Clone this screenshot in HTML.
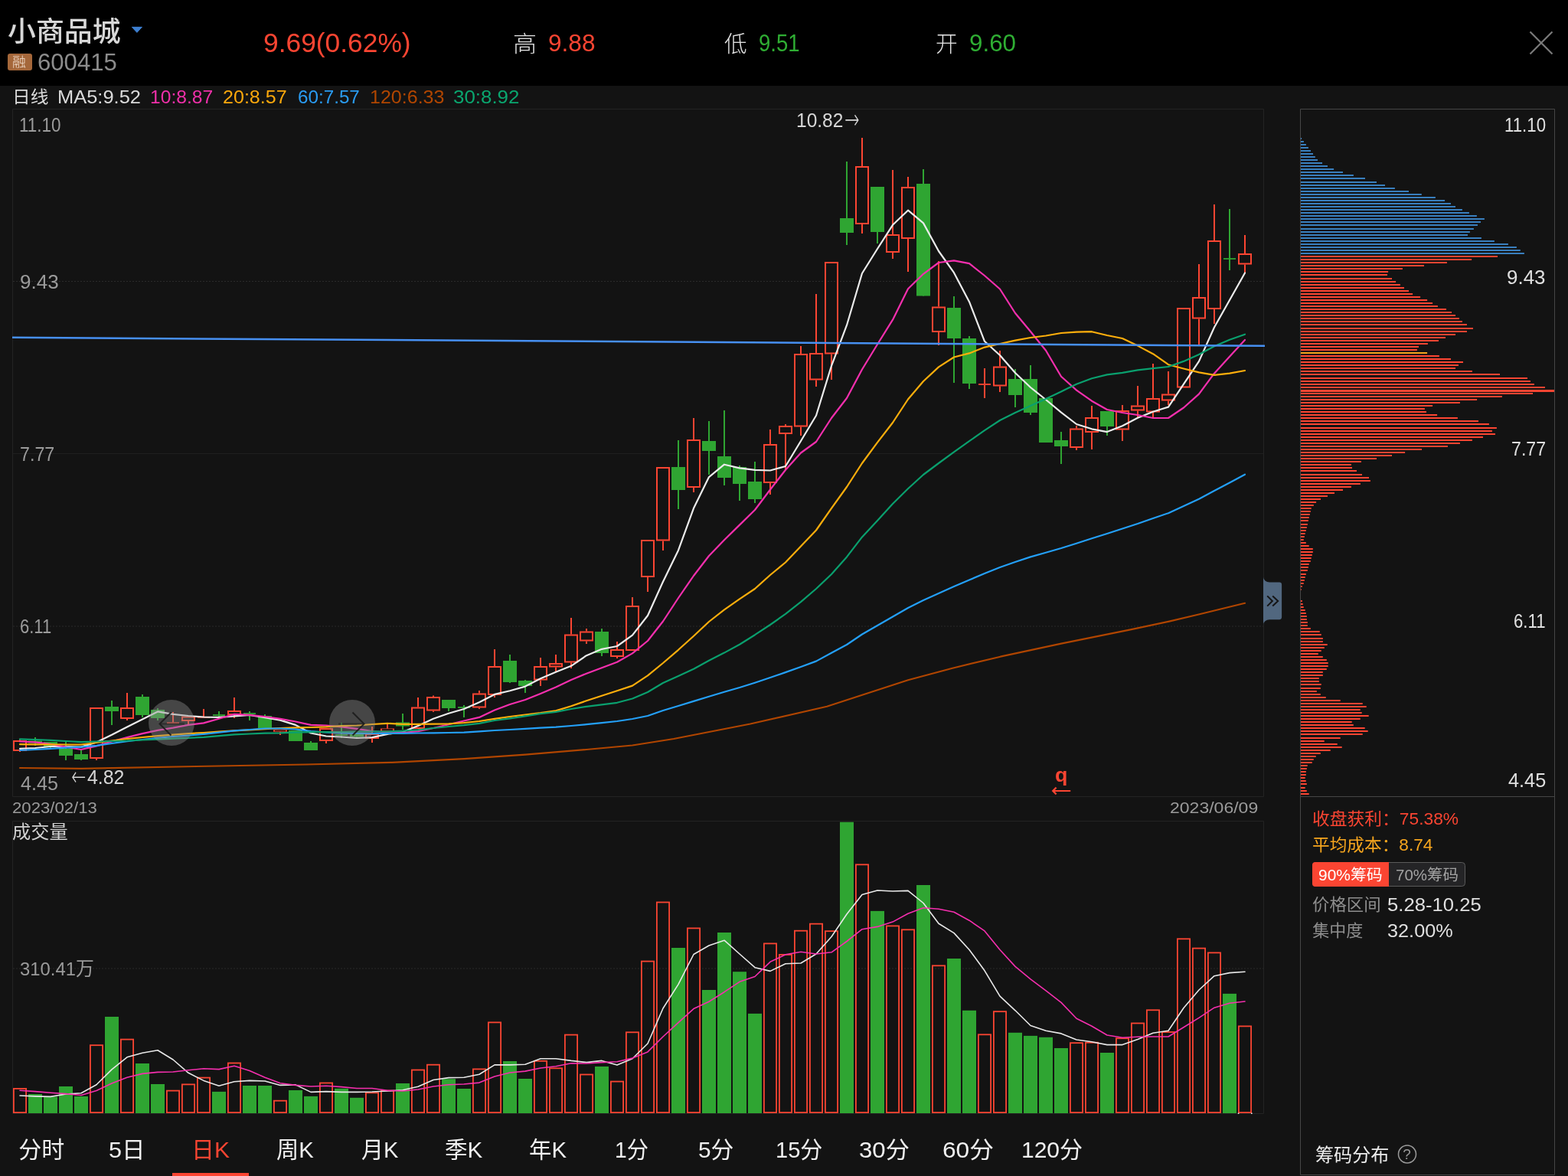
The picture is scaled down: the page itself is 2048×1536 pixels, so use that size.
<!DOCTYPE html>
<html lang="zh-CN"><head><meta charset="utf-8"><title>小商品城 600415 日K</title>
<style>
html,body{margin:0;padding:0;background:#131313;}
body{width:2048px;height:1536px;position:relative;overflow:hidden;font-family:"Liberation Sans","Noto Sans CJK SC",sans-serif;}
#bar{position:absolute;left:0;top:0;width:2048px;height:112px;background:#000;}
svg{position:absolute;left:0;top:0;}
.t{position:absolute;white-space:nowrap;transform-origin:0 0;display:block;}
</style></head><body>
<div id="bar"></div>
<svg width="2048" height="1536" viewBox="0 0 2048 1536">
<path d="M16.5 142.5 H1650.5 V1040.5 H16.5 Z M16.5 1072.5 H1650.5 V1454.5 H16.5 Z" fill="none" stroke="#232323" stroke-width="1"/>
<path d="M17 367.5 H1650 M17 818 H1650 M17 1265 H1650" stroke="#2b2b2b" stroke-width="1" stroke-dasharray="2 2" fill="none"/>
<path d="M17 592.5 H1650" stroke="#1f1f1f" stroke-width="1" fill="none"/>
<g fill="#2fa532"><rect x="45" y="963" width="2" height="11.0"/><rect x="37" y="967.5" width="18" height="3.0"/><rect x="65" y="969" width="2" height="10.0"/><rect x="57" y="969" width="18" height="6.5"/><rect x="85" y="969" width="2" height="24.0"/><rect x="77" y="978" width="18" height="9.0"/><rect x="105" y="980" width="2" height="13.0"/><rect x="97" y="985" width="18" height="7.0"/><rect x="145" y="915" width="2" height="32.0"/><rect x="137" y="923" width="18" height="6.0"/><rect x="185" y="907" width="2" height="30.0"/><rect x="177" y="910" width="18" height="24.0"/><rect x="205" y="925" width="2" height="16.0"/><rect x="197" y="927" width="18" height="11.0"/><rect x="285" y="929" width="2" height="8.0"/><rect x="278" y="933.1" width="16" height="1.8"/><rect x="325" y="929" width="2" height="12.0"/><rect x="318" y="931.1" width="16" height="1.8"/><rect x="345" y="933" width="2" height="18.0"/><rect x="337" y="935" width="18" height="16.0"/><rect x="385" y="954" width="2" height="14.0"/><rect x="377" y="954" width="18" height="14.0"/><rect x="405" y="968" width="2" height="12.0"/><rect x="397" y="970" width="18" height="10.0"/><rect x="445" y="944" width="2" height="20.0"/><rect x="438" y="959.1" width="16" height="1.8"/><rect x="465" y="957" width="2" height="6.0"/><rect x="457" y="959" width="18" height="3.5"/><rect x="525" y="932" width="2" height="21.0"/><rect x="517" y="943.5" width="18" height="5.0"/><rect x="585" y="914" width="2" height="15.0"/><rect x="577" y="914" width="18" height="11.0"/><rect x="605" y="921" width="2" height="16.0"/><rect x="598" y="923.1" width="16" height="1.8"/><rect x="665" y="855" width="2" height="37.0"/><rect x="657" y="863" width="18" height="28.0"/><rect x="685" y="888" width="2" height="17.0"/><rect x="677" y="889" width="18" height="7.0"/><rect x="785" y="821" width="2" height="36.0"/><rect x="777" y="825" width="18" height="28.0"/><rect x="885" y="575" width="2" height="90.0"/><rect x="877" y="610" width="18" height="30.0"/><rect x="925" y="550" width="2" height="70.0"/><rect x="917" y="576" width="18" height="13.0"/><rect x="945" y="536" width="2" height="98.0"/><rect x="937" y="596" width="18" height="28.0"/><rect x="965" y="608" width="2" height="46.0"/><rect x="957" y="610" width="18" height="22.0"/><rect x="985" y="603" width="2" height="54.0"/><rect x="977" y="629" width="18" height="23.0"/><rect x="1105" y="211" width="2" height="109.0"/><rect x="1097" y="285" width="18" height="19.0"/><rect x="1145" y="244" width="2" height="74.0"/><rect x="1137" y="244" width="18" height="59.0"/><rect x="1205" y="221" width="2" height="165.5"/><rect x="1197" y="240" width="18" height="146.5"/><rect x="1245" y="387" width="2" height="113.0"/><rect x="1237" y="402" width="18" height="40.0"/><rect x="1265" y="439" width="2" height="69.0"/><rect x="1257" y="442" width="18" height="59.0"/><rect x="1325" y="482" width="2" height="50.0"/><rect x="1317" y="495" width="18" height="21.0"/><rect x="1345" y="477" width="2" height="65.0"/><rect x="1337" y="495" width="18" height="44.0"/><rect x="1365" y="520" width="2" height="58.0"/><rect x="1357" y="520" width="18" height="58.0"/><rect x="1385" y="564" width="2" height="42.0"/><rect x="1377" y="575" width="18" height="8.0"/><rect x="1445" y="537" width="2" height="32.0"/><rect x="1437" y="537" width="18" height="20.0"/><rect x="1605" y="273" width="2" height="80.0"/><rect x="1598" y="337.1" width="16" height="1.8"/></g><g fill="#fb4532"><rect x="25" y="966" width="2" height="1.0"/><rect x="25" y="981" width="2" height="1.0"/><path d="M17 967h18v14.0h-18z M19 969v10.0h14v-10.0z" fill-rule="evenodd"/><rect x="125" y="991" width="2" height="2.0"/><path d="M117 924h18v67.0h-18z M119 926v63.0h14v-63.0z" fill-rule="evenodd"/><rect x="165" y="905" width="2" height="19.0"/><rect x="165" y="939" width="2" height="2.0"/><path d="M157 924h18v15.0h-18z M159 926v11.0h14v-11.0z" fill-rule="evenodd"/><rect x="225" y="930" width="2" height="13.5"/><rect x="218" y="943.4" width="16" height="1.8"/><rect x="245" y="942" width="2" height="5.0"/><path d="M237 935.5h18v6.5h-18z M239 937.5v2.5h14v-2.5z" fill-rule="evenodd"/><rect x="265" y="926" width="2" height="10.0"/><rect x="258" y="935.9" width="16" height="1.8"/><rect x="305" y="911" width="2" height="17.0"/><rect x="305" y="934" width="2" height="4.0"/><path d="M297 928h18v6.0h-18z M299 930v2.0h14v-2.0z" fill-rule="evenodd"/><rect x="365" y="955.8" width="2" height="4.2"/><path d="M357 953.2h18v2.6h-18z M359 954.0v1.0h14v-1.0z" fill-rule="evenodd"/><rect x="425" y="968" width="2" height="3.0"/><path d="M417 951h18v17.0h-18z M419 953v13.0h14v-13.0z" fill-rule="evenodd"/><rect x="485" y="949" width="2" height="9.0"/><rect x="485" y="965" width="2" height="5.0"/><path d="M477 958h18v7.0h-18z M479 960v3.0h14v-3.0z" fill-rule="evenodd"/><rect x="505" y="946" width="2" height="5.5"/><path d="M497 951.5h18v3.5h-18z M499 952.3v1.9h14v-1.9z" fill-rule="evenodd"/><rect x="545" y="911" width="2" height="12.5"/><path d="M537 923.5h18v28.5h-18z M539 925.5v24.5h14v-24.5z" fill-rule="evenodd"/><rect x="565" y="908.5" width="2" height="1.5"/><rect x="565" y="928.5" width="2" height="1.5"/><path d="M557 910h18v18.5h-18z M559 912v14.5h14v-14.5z" fill-rule="evenodd"/><rect x="625" y="902" width="2" height="3.5"/><rect x="625" y="924.5" width="2" height="1.5"/><path d="M617 905.5h18v19.0h-18z M619 907.5v15.0h14v-15.0z" fill-rule="evenodd"/><rect x="645" y="848" width="2" height="22.0"/><rect x="645" y="908" width="2" height="3.0"/><path d="M637 870h18v38.0h-18z M639 872v34.0h14v-34.0z" fill-rule="evenodd"/><rect x="705" y="859" width="2" height="11.0"/><rect x="705" y="888.5" width="2" height="7.5"/><path d="M697 870h18v18.5h-18z M699 872v14.5h14v-14.5z" fill-rule="evenodd"/><rect x="725" y="855" width="2" height="11.0"/><rect x="725" y="871.5" width="2" height="6.5"/><path d="M717 866h18v5.5h-18z M719 868v1.5h14v-1.5z" fill-rule="evenodd"/><rect x="745" y="807" width="2" height="21.5"/><rect x="745" y="865.5" width="2" height="7.5"/><path d="M737 828.5h18v37.0h-18z M739 830.5v33.0h14v-33.0z" fill-rule="evenodd"/><rect x="765" y="821" width="2" height="3.5"/><rect x="765" y="837.5" width="2" height="3.5"/><path d="M757 824.5h18v13.0h-18z M759 826.5v9.0h14v-9.0z" fill-rule="evenodd"/><rect x="805" y="838" width="2" height="10.0"/><rect x="805" y="858" width="2" height="2.0"/><path d="M797 848h18v10.0h-18z M799 850v6.0h14v-6.0z" fill-rule="evenodd"/><rect x="825" y="780" width="2" height="11.0"/><path d="M817 791h18v59.0h-18z M819 793v55.0h14v-55.0z" fill-rule="evenodd"/><rect x="845" y="754" width="2" height="19.0"/><path d="M837 705h18v49.0h-18z M839 707v45.0h14v-45.0z" fill-rule="evenodd"/><rect x="865" y="706.5" width="2" height="12.5"/><path d="M857 610h18v96.5h-18z M859 612v92.5h14v-92.5z" fill-rule="evenodd"/><rect x="905" y="546" width="2" height="28.0"/><rect x="905" y="637" width="2" height="6.0"/><path d="M897 574h18v63.0h-18z M899 576v59.0h14v-59.0z" fill-rule="evenodd"/><rect x="1005" y="561" width="2" height="19.0"/><rect x="1005" y="631" width="2" height="15.0"/><path d="M997 580h18v51.0h-18z M999 582v47.0h14v-47.0z" fill-rule="evenodd"/><rect x="1025" y="554" width="2" height="2.0"/><rect x="1025" y="567" width="2" height="46.0"/><path d="M1017 556h18v11.0h-18z M1019 558v7.0h14v-7.0z" fill-rule="evenodd"/><rect x="1045" y="452" width="2" height="10.0"/><rect x="1045" y="557.5" width="2" height="11.5"/><path d="M1037 462h18v95.5h-18z M1039 464v91.5h14v-91.5z" fill-rule="evenodd"/><rect x="1065" y="384" width="2" height="77.0"/><rect x="1065" y="496.5" width="2" height="8.5"/><path d="M1057 461h18v35.5h-18z M1059 463v31.5h14v-31.5z" fill-rule="evenodd"/><rect x="1085" y="462.5" width="2" height="33.5"/><path d="M1077 342h18v120.5h-18z M1079 344v116.5h14v-116.5z" fill-rule="evenodd"/><rect x="1125" y="180" width="2" height="37.0"/><rect x="1125" y="293" width="2" height="12.0"/><path d="M1117 217h18v76.0h-18z M1119 219v72.0h14v-72.0z" fill-rule="evenodd"/><rect x="1165" y="222" width="2" height="84.0"/><rect x="1165" y="330" width="2" height="8.0"/><path d="M1157 306h18v24.0h-18z M1159 308v20.0h14v-20.0z" fill-rule="evenodd"/><rect x="1185" y="231" width="2" height="13.0"/><rect x="1185" y="312" width="2" height="43.0"/><path d="M1177 244h18v68.0h-18z M1179 246v64.0h14v-64.0z" fill-rule="evenodd"/><rect x="1225" y="341" width="2" height="59.5"/><rect x="1225" y="434" width="2" height="17.0"/><path d="M1217 400.5h18v33.5h-18z M1219 402.5v29.5h14v-29.5z" fill-rule="evenodd"/><rect x="1285" y="481" width="2" height="20.0"/><rect x="1285" y="503" width="2" height="17.0"/><rect x="1278" y="501.1" width="16" height="1.8"/><rect x="1305" y="458" width="2" height="20.5"/><rect x="1305" y="504.5" width="2" height="7.5"/><path d="M1297 478.5h18v26.0h-18z M1299 480.5v22.0h14v-22.0z" fill-rule="evenodd"/><rect x="1405" y="556" width="2" height="3.5"/><rect x="1405" y="585" width="2" height="3.0"/><path d="M1397 559.5h18v25.5h-18z M1399 561.5v21.5h14v-21.5z" fill-rule="evenodd"/><rect x="1425" y="530" width="2" height="15.0"/><rect x="1425" y="565" width="2" height="22.0"/><path d="M1417 545h18v20.0h-18z M1419 547v16.0h14v-16.0z" fill-rule="evenodd"/><rect x="1465" y="529" width="2" height="7.0"/><rect x="1465" y="561.5" width="2" height="14.5"/><path d="M1457 536h18v25.5h-18z M1459 538v21.5h14v-21.5z" fill-rule="evenodd"/><rect x="1485" y="504" width="2" height="25.5"/><rect x="1485" y="536.5" width="2" height="8.5"/><path d="M1477 529.5h18v7.0h-18z M1479 531.5v3.0h14v-3.0z" fill-rule="evenodd"/><rect x="1505" y="475" width="2" height="45.0"/><rect x="1505" y="538.5" width="2" height="6.5"/><path d="M1497 520h18v18.5h-18z M1499 522v14.5h14v-14.5z" fill-rule="evenodd"/><rect x="1525" y="485" width="2" height="29.5"/><rect x="1525" y="523.5" width="2" height="5.5"/><path d="M1517 514.5h18v9.0h-18z M1519 516.5v5.0h14v-5.0z" fill-rule="evenodd"/><path d="M1537 402h18v104.5h-18z M1539 404v100.5h14v-100.5z" fill-rule="evenodd"/><rect x="1565" y="345" width="2" height="43.0"/><rect x="1565" y="416.5" width="2" height="34.5"/><path d="M1557 388h18v28.5h-18z M1559 390v24.5h14v-24.5z" fill-rule="evenodd"/><rect x="1585" y="267" width="2" height="47.0"/><rect x="1585" y="404" width="2" height="19.0"/><path d="M1577 314h18v90.0h-18z M1579 316v86.0h14v-86.0z" fill-rule="evenodd"/><rect x="1625" y="307" width="2" height="24.0"/><rect x="1625" y="345.5" width="2" height="11.0"/><path d="M1617 331h18v14.5h-18z M1619 333v10.5h14v-10.5z" fill-rule="evenodd"/></g>
<g fill="#2fa532"><rect x="37" y="1429.0" width="18" height="25.0"/><rect x="57" y="1432.4" width="18" height="21.6"/><rect x="77" y="1419.0" width="18" height="35.0"/><rect x="97" y="1432.0" width="18" height="22.0"/><rect x="137" y="1328.0" width="18" height="126.0"/><rect x="177" y="1389.0" width="18" height="65.0"/><rect x="197" y="1416.0" width="18" height="38.0"/><rect x="277" y="1425.9" width="18" height="28.1"/><rect x="317" y="1418.0" width="18" height="36.0"/><rect x="337" y="1418.0" width="18" height="36.0"/><rect x="377" y="1424.0" width="18" height="30.0"/><rect x="397" y="1431.9" width="18" height="22.1"/><rect x="437" y="1421.8" width="18" height="32.2"/><rect x="457" y="1433.8" width="18" height="20.2"/><rect x="517" y="1415.0" width="18" height="39.0"/><rect x="577" y="1409.2" width="18" height="44.8"/><rect x="597" y="1422.0" width="18" height="32.0"/><rect x="657" y="1386.0" width="18" height="68.0"/><rect x="677" y="1409.0" width="18" height="45.0"/><rect x="777" y="1393.0" width="18" height="61.0"/><rect x="877" y="1238.0" width="18" height="216.0"/><rect x="917" y="1293.0" width="18" height="161.0"/><rect x="937" y="1218.0" width="18" height="236.0"/><rect x="957" y="1269.2" width="18" height="184.8"/><rect x="977" y="1323.9" width="18" height="130.1"/><rect x="1097" y="1073.7" width="18" height="380.3"/><rect x="1137" y="1189.9" width="18" height="264.1"/><rect x="1197" y="1156.0" width="18" height="298.0"/><rect x="1237" y="1252.0" width="18" height="202.0"/><rect x="1257" y="1319.8" width="18" height="134.2"/><rect x="1317" y="1348.8" width="18" height="105.2"/><rect x="1337" y="1352.9" width="18" height="101.1"/><rect x="1357" y="1354.8" width="18" height="99.2"/><rect x="1377" y="1369.0" width="18" height="85.0"/><rect x="1437" y="1375.0" width="18" height="79.0"/><rect x="1597" y="1297.9" width="18" height="156.1"/></g><g fill="none" stroke="#fb4532" stroke-width="1.8"><rect x="17.9" y="1421.90" width="16.2" height="31.20"/><rect x="117.9" y="1365.20" width="16.2" height="87.90"/><rect x="157.9" y="1357.60" width="16.2" height="95.50"/><rect x="217.9" y="1424.60" width="16.2" height="28.50"/><rect x="237.9" y="1416.40" width="16.2" height="36.70"/><rect x="257.9" y="1407.60" width="16.2" height="45.50"/><rect x="297.9" y="1388.50" width="16.2" height="64.60"/><rect x="357.9" y="1437.70" width="16.2" height="15.40"/><rect x="417.9" y="1414.50" width="16.2" height="38.60"/><rect x="477.9" y="1427.30" width="16.2" height="25.80"/><rect x="497.9" y="1424.60" width="16.2" height="28.50"/><rect x="537.9" y="1397.50" width="16.2" height="55.60"/><rect x="557.9" y="1390.70" width="16.2" height="62.40"/><rect x="617.9" y="1396.40" width="16.2" height="56.70"/><rect x="637.9" y="1335.40" width="16.2" height="117.70"/><rect x="697.9" y="1385.80" width="16.2" height="67.30"/><rect x="717.9" y="1395.30" width="16.2" height="57.80"/><rect x="737.9" y="1351.60" width="16.2" height="101.50"/><rect x="757.9" y="1403.50" width="16.2" height="49.60"/><rect x="797.9" y="1412.60" width="16.2" height="40.50"/><rect x="817.9" y="1348.30" width="16.2" height="104.80"/><rect x="837.9" y="1255.60" width="16.2" height="197.50"/><rect x="857.9" y="1178.50" width="16.2" height="274.60"/><rect x="897.9" y="1212.40" width="16.2" height="240.70"/><rect x="997.9" y="1232.40" width="16.2" height="220.70"/><rect x="1017.9" y="1246.90" width="16.2" height="206.20"/><rect x="1037.9" y="1215.70" width="16.2" height="237.40"/><rect x="1057.9" y="1206.65" width="16.2" height="246.45"/><rect x="1077.9" y="1216.20" width="16.2" height="236.90"/><rect x="1117.9" y="1129.30" width="16.2" height="323.80"/><rect x="1157.9" y="1209.40" width="16.2" height="243.70"/><rect x="1177.9" y="1214.30" width="16.2" height="238.80"/><rect x="1217.9" y="1261.30" width="16.2" height="191.80"/><rect x="1277.9" y="1351.30" width="16.2" height="101.80"/><rect x="1297.9" y="1321.20" width="16.2" height="131.90"/><rect x="1397.9" y="1362.20" width="16.2" height="90.90"/><rect x="1417.9" y="1361.70" width="16.2" height="91.40"/><rect x="1457.9" y="1356.20" width="16.2" height="96.90"/><rect x="1477.9" y="1336.50" width="16.2" height="116.60"/><rect x="1497.9" y="1319.30" width="16.2" height="133.80"/><rect x="1517.9" y="1348.00" width="16.2" height="105.10"/><rect x="1537.9" y="1226.30" width="16.2" height="226.80"/><rect x="1557.9" y="1238.60" width="16.2" height="214.50"/><rect x="1577.9" y="1244.40" width="16.2" height="208.70"/><rect x="1617.9" y="1340.40" width="16.2" height="112.70"/></g>
<polyline points="26.0,977.8 46.0,977.0 66.0,975.0 86.0,975.0 106.0,975.6 126.0,969.4 146.0,959.8 166.0,949.4 186.0,939.4 206.0,929.4 226.0,932.8 246.0,935.0 266.0,936.5 286.0,936.9 306.0,935.4 326.0,934.0 346.0,937.2 366.0,940.6 386.0,946.9 406.0,957.5 426.0,961.5 446.0,962.5 466.0,964.0 486.0,963.1 506.0,958.8 526.0,956.0 546.0,948.0 566.0,938.8 586.0,931.8 606.0,926.0 626.0,917.2 646.0,906.9 666.0,902.2 686.0,896.6 706.0,886.2 726.0,877.8 746.0,869.8 766.0,856.2 786.0,847.8 806.0,844.0 826.0,829.6 846.0,804.0 866.0,759.7 886.0,718.7 906.0,663.8 926.0,623.1 946.0,606.7 966.0,611.4 986.0,613.8 1006.0,614.5 1026.0,609.0 1046.0,576.0 1066.0,542.7 1086.0,477.8 1106.0,424.7 1126.0,357.0 1146.0,325.0 1166.0,293.8 1186.0,274.7 1206.0,291.4 1226.0,328.0 1246.0,356.2 1266.0,394.2 1286.0,445.8 1306.0,464.0 1326.0,487.0 1346.0,506.0 1366.0,522.0 1386.0,538.7 1406.0,554.0 1426.0,560.3 1446.0,564.1 1466.0,556.2 1486.0,545.7 1506.0,537.8 1526.0,531.6 1546.0,501.7 1566.0,471.9 1586.0,427.5 1606.0,392.0 1626.0,356.5" fill="none" stroke="#ebebeb" stroke-width="2.2" stroke-linejoin="round" stroke-linecap="round"/>
<polyline points="26.0,968.5 46.0,969.4 66.0,971.9 86.0,975.6 106.0,979.0 126.0,974.4 146.0,968.5 166.0,963.1 186.0,958.1 206.0,953.8 226.0,950.6 246.0,946.9 266.0,944.4 286.0,938.8 306.0,932.8 326.0,933.8 346.0,936.0 366.0,938.8 386.0,942.5 406.0,946.9 426.0,947.5 446.0,949.4 466.0,951.9 486.0,955.0 506.0,956.5 526.0,957.0 546.0,955.2 566.0,951.0 586.0,946.2 606.0,941.5 626.0,936.9 646.0,927.5 666.0,920.0 686.0,914.0 706.0,906.0 726.0,897.5 746.0,888.0 766.0,879.7 786.0,872.2 806.0,864.7 826.0,853.4 846.0,837.0 866.0,811.5 886.0,781.0 906.0,752.0 926.0,726.0 946.0,705.2 966.0,685.6 986.0,666.0 1006.0,639.5 1026.0,613.8 1046.0,591.5 1066.0,577.0 1086.0,546.0 1106.0,520.0 1126.0,482.5 1146.0,449.7 1166.0,417.7 1186.0,377.2 1206.0,357.8 1226.0,343.0 1246.0,340.3 1266.0,344.2 1286.0,360.0 1306.0,377.5 1326.0,409.0 1346.0,433.0 1366.0,457.8 1386.0,491.7 1406.0,509.6 1426.0,523.7 1446.0,535.0 1466.0,539.0 1486.0,542.0 1506.0,546.0 1526.0,546.0 1546.0,532.5 1566.0,514.6 1586.0,487.7 1606.0,465.7 1626.0,444.0" fill="none" stroke="#f52fae" stroke-width="2.2" stroke-linejoin="round" stroke-linecap="round"/>
<polyline points="26.0,972.2 46.0,972.3 66.0,972.4 86.0,972.5 106.0,972.5 126.0,970.0 146.0,967.5 166.0,965.0 186.0,963.0 206.0,961.2 226.0,959.7 246.0,958.1 266.0,957.1 286.0,955.7 306.0,954.4 326.0,953.3 346.0,952.2 366.0,951.0 386.0,950.4 406.0,950.0 426.0,949.4 446.0,948.1 466.0,947.5 486.0,946.0 506.0,944.8 526.0,945.9 546.0,945.9 566.0,945.7 586.0,945.3 606.0,944.0 626.0,942.0 646.0,938.8 666.0,936.0 686.0,933.5 706.0,931.2 726.0,928.4 746.0,922.2 766.0,915.3 786.0,908.8 806.0,902.2 826.0,895.6 846.0,882.4 866.0,866.0 886.0,848.8 906.0,830.8 926.0,812.0 946.0,796.4 966.0,782.3 986.0,769.0 1006.0,751.0 1026.0,734.5 1046.0,713.5 1066.0,692.5 1086.0,663.8 1106.0,636.0 1126.0,605.0 1146.0,577.8 1166.0,552.0 1186.0,521.5 1206.0,498.0 1226.0,479.4 1246.0,466.5 1266.0,461.4 1286.0,453.6 1306.0,449.0 1326.0,444.7 1346.0,441.0 1366.0,438.5 1386.0,435.0 1406.0,433.7 1426.0,433.2 1446.0,438.0 1466.0,442.0 1486.0,451.6 1506.0,462.2 1526.0,476.2 1546.0,481.5 1566.0,486.4 1586.0,489.8 1606.0,487.7 1626.0,484.0" fill="none" stroke="#fdae0c" stroke-width="2.2" stroke-linejoin="round" stroke-linecap="round"/>
<polyline points="26.0,980.0 46.0,979.0 66.0,977.8 86.0,976.7 106.0,975.6 126.0,973.8 146.0,971.0 166.0,968.1 186.0,966.0 206.0,963.8 226.0,962.0 246.0,960.6 266.0,958.9 286.0,956.6 306.0,954.4 326.0,953.0 346.0,951.5 366.0,951.5 386.0,952.5 406.0,955.0 426.0,956.5 446.0,957.5 466.0,957.8 486.0,958.1 506.0,957.8 526.0,957.8 546.0,957.5 566.0,957.3 586.0,957.0 606.0,956.6 626.0,955.3 646.0,954.0 666.0,953.0 686.0,951.9 706.0,950.7 726.0,949.6 746.0,948.0 766.0,946.2 786.0,944.1 806.0,942.0 826.0,939.0 846.0,935.0 866.0,928.0 886.0,922.0 906.0,915.9 926.0,909.7 946.0,903.8 966.0,898.0 986.0,891.7 1006.0,885.0 1026.0,878.1 1046.0,871.0 1066.0,863.6 1086.0,852.7 1106.0,842.0 1126.0,828.5 1146.0,817.0 1166.0,805.5 1186.0,794.0 1206.0,784.0 1226.0,775.0 1246.0,766.0 1266.0,757.5 1286.0,749.0 1306.0,741.0 1326.0,734.0 1346.0,727.4 1366.0,721.7 1386.0,716.0 1406.0,709.7 1426.0,703.3 1446.0,697.0 1466.0,690.5 1486.0,684.0 1506.0,677.0 1526.0,670.2 1546.0,661.0 1566.0,651.7 1586.0,641.0 1606.0,630.5 1626.0,619.7" fill="none" stroke="#24a0f8" stroke-width="2.2" stroke-linejoin="round" stroke-linecap="round"/>
<polyline points="26.0,1003.0 106.0,1003.8 256.0,1001.0 400.0,998.5 512.0,995.8 606.0,991.2 686.0,985.6 766.0,979.0 826.0,973.5 880.0,965.0 980.0,945.5 1080.0,922.8 1186.0,888.3 1244.0,872.7 1306.6,857.7 1386.0,840.7 1476.5,822.3 1526.0,811.8 1565.7,802.5 1626.0,787.8" fill="none" stroke="#b04500" stroke-width="2.2" stroke-linejoin="round" stroke-linecap="round"/>
<polyline points="26.0,965.4 46.0,966.0 66.0,966.9 86.0,968.0 106.0,969.1 126.0,968.5 146.0,968.0 166.0,967.5 186.0,966.5 206.0,965.6 226.0,964.7 246.0,963.8 266.0,962.9 286.0,961.1 306.0,959.4 326.0,958.5 346.0,957.7 366.0,957.4 386.0,956.6 406.0,956.2 426.0,956.2 446.0,956.0 466.0,955.6 486.0,955.3 506.0,955.5 526.0,954.7 546.0,953.4 566.0,951.0 586.0,949.0 606.0,947.2 626.0,944.8 646.0,941.0 666.0,938.4 686.0,935.4 706.0,932.2 726.0,929.8 746.0,926.0 766.0,922.8 786.0,920.4 806.0,917.8 826.0,912.5 846.0,904.0 866.0,892.0 886.0,883.0 906.0,873.8 926.0,862.8 946.0,852.6 966.0,841.7 986.0,829.2 1006.0,816.0 1026.0,801.9 1046.0,786.2 1066.0,769.0 1086.0,750.0 1106.0,727.4 1126.0,701.4 1146.0,680.0 1166.0,658.0 1186.0,638.2 1206.0,620.0 1226.0,605.0 1246.0,590.3 1266.0,576.2 1286.0,562.2 1306.0,549.0 1326.0,539.0 1346.0,530.0 1366.0,521.0 1386.0,511.4 1406.0,501.7 1426.0,494.2 1446.0,489.4 1466.0,486.8 1486.0,483.3 1506.0,481.2 1526.0,479.0 1546.0,471.9 1566.0,463.0 1586.0,452.2 1606.0,443.7 1626.0,436.7" fill="none" stroke="#0aa06e" stroke-width="2.2" stroke-linejoin="round" stroke-linecap="round"/>
<polyline points="26.0,1431.0 46.0,1431.9 66.0,1432.4 86.0,1429.0 106.0,1427.8 126.0,1416.8 146.0,1396.9 166.0,1380.8 186.0,1375.3 206.0,1371.7 226.0,1384.0 246.0,1401.3 266.0,1411.4 286.0,1418.2 306.0,1412.8 326.0,1411.4 346.0,1412.0 366.0,1417.4 386.0,1416.9 406.0,1426.4 426.0,1425.6 446.0,1426.4 466.0,1426.4 486.0,1426.0 506.0,1425.0 526.0,1423.7 546.0,1419.3 566.0,1410.5 586.0,1407.6 606.0,1407.3 626.0,1403.2 646.0,1390.9 666.0,1390.9 686.0,1390.3 706.0,1382.7 726.0,1382.7 746.0,1385.4 766.0,1387.6 786.0,1385.4 806.0,1391.1 826.0,1382.7 846.0,1363.0 866.0,1317.0 886.0,1285.6 906.0,1246.5 926.0,1235.0 946.0,1228.2 966.0,1246.0 986.0,1263.7 1006.0,1268.4 1026.0,1258.8 1046.0,1258.0 1066.0,1246.0 1086.0,1223.5 1106.0,1194.0 1126.0,1168.6 1146.0,1163.0 1166.0,1164.0 1186.0,1163.4 1206.0,1179.5 1226.0,1206.3 1246.0,1218.6 1266.0,1240.5 1286.0,1267.8 1306.0,1301.2 1326.0,1319.8 1346.0,1339.5 1366.0,1346.3 1386.0,1349.9 1406.0,1358.0 1426.0,1360.8 1446.0,1364.6 1466.0,1364.6 1486.0,1357.5 1506.0,1349.3 1526.0,1346.3 1546.0,1316.5 1566.0,1293.0 1586.0,1274.7 1606.0,1270.6 1626.0,1269.2" fill="none" stroke="#e8e8e8" stroke-width="1.6" stroke-linejoin="round" stroke-linecap="round"/>
<polyline points="26.0,1424.2 46.0,1425.6 66.0,1427.2 86.0,1428.6 106.0,1430.5 126.0,1424.5 146.0,1415.0 166.0,1407.3 186.0,1402.4 206.0,1400.4 226.0,1400.0 246.0,1397.7 266.0,1395.8 286.0,1396.6 306.0,1392.2 326.0,1398.5 346.0,1407.3 366.0,1414.7 386.0,1417.4 406.0,1419.0 426.0,1418.2 446.0,1419.6 466.0,1421.5 486.0,1421.5 506.0,1424.2 526.0,1425.0 546.0,1423.0 566.0,1419.0 586.0,1416.8 606.0,1416.0 626.0,1414.1 646.0,1406.0 666.0,1401.0 686.0,1399.1 706.0,1395.0 726.0,1392.8 746.0,1388.7 766.0,1389.0 786.0,1387.6 806.0,1386.8 826.0,1382.1 846.0,1373.9 866.0,1354.0 886.0,1335.6 906.0,1317.6 926.0,1308.3 946.0,1295.7 966.0,1282.3 986.0,1275.5 1006.0,1256.3 1026.0,1246.8 1046.0,1243.2 1066.0,1246.0 1086.0,1243.8 1106.0,1229.5 1126.0,1213.7 1146.0,1210.4 1166.0,1204.1 1186.0,1193.2 1206.0,1185.8 1226.0,1187.2 1246.0,1191.3 1266.0,1202.2 1286.0,1215.9 1306.0,1240.5 1326.0,1262.4 1346.0,1278.8 1366.0,1293.8 1386.0,1309.4 1406.0,1330.2 1426.0,1340.3 1446.0,1352.0 1466.0,1355.3 1486.0,1354.2 1506.0,1354.0 1526.0,1354.0 1546.0,1341.7 1566.0,1329.4 1586.0,1316.2 1606.0,1310.2 1626.0,1308.0" fill="none" stroke="#f52fae" stroke-width="1.6" stroke-linejoin="round" stroke-linecap="round"/>
<line x1="16" y1="440.8" x2="1652" y2="451.8" stroke="#4790f2" stroke-width="2.5"/>
<path d="M1616.8 1453.6 h1.6 v1.4 h-1.6z M1634 1453.6 h1.6 v1.4 h-1.6z" fill="#e8e8e8"/>
<circle cx="224" cy="944" r="30" fill="#8c8c8c" fill-opacity="0.42"/>
<circle cx="460" cy="944" r="30" fill="#8c8c8c" fill-opacity="0.42"/>
<path d="M223.5 930.5 L208.5 945.5 L223.5 960.5" fill="none" stroke="#1c1c1c" stroke-opacity="0.9" stroke-width="2"/>
<path d="M460.5 930.5 L475.5 945.5 L460.5 960.5" fill="none" stroke="#1c1c1c" stroke-opacity="0.9" stroke-width="2"/>
<path d="M209 945.5 H241 M442 945.5 H475" stroke="#1c1c1c" stroke-opacity="0.55" stroke-width="2" fill="none"/>
<path d="M1650 753.8 A8.2 6.8 0 0 0 1658.2 760.6 H1671 Q1674.1 760.6 1674.1 763.7 V806.1 Q1674.1 809.2 1671 809.2 H1658.2 A8.2 7 0 0 0 1650 816.2 Z" fill="#51677f"/>
<path d="M1655.2 778.4 L1661.9 785 L1655.2 791.6 M1662.2 778.4 L1669.2 785 L1662.2 791.6" fill="none" stroke="#151515" stroke-width="2"/>
<g fill="#397fbe"><rect x="1698.5" y="180" width="1.6" height="2"/><rect x="1698.5" y="184" width="4.4" height="2"/><rect x="1698.5" y="188" width="7.4" height="2"/><rect x="1698.5" y="192" width="10.4" height="2"/><rect x="1698.5" y="196" width="13.5" height="2"/><rect x="1698.5" y="200" width="16.5" height="2"/><rect x="1698.5" y="204" width="19.3" height="2"/><rect x="1698.5" y="208" width="22.5" height="2"/><rect x="1698.5" y="212" width="28.5" height="2"/><rect x="1698.5" y="216" width="35.5" height="2"/><rect x="1698.5" y="220" width="43.6" height="2"/><rect x="1698.5" y="224" width="55.5" height="2"/><rect x="1698.5" y="228" width="69.4" height="2"/><rect x="1698.5" y="232" width="84.5" height="2"/><rect x="1698.5" y="237" width="99.5" height="2"/><rect x="1698.5" y="241" width="110.5" height="2"/><rect x="1698.5" y="245" width="123.4" height="2"/><rect x="1698.5" y="249" width="141.5" height="2"/><rect x="1698.5" y="253" width="158.3" height="2"/><rect x="1698.5" y="257" width="176.4" height="2"/><rect x="1698.5" y="261" width="188.6" height="2"/><rect x="1698.5" y="265" width="196.5" height="2"/><rect x="1698.5" y="269" width="202.5" height="2"/><rect x="1698.5" y="273" width="211.4" height="2"/><rect x="1698.5" y="277" width="220.4" height="2"/><rect x="1698.5" y="281" width="230.4" height="2"/><rect x="1698.5" y="285" width="240.4" height="2"/><rect x="1698.5" y="289" width="235.5" height="2"/><rect x="1698.5" y="293" width="231.5" height="2"/><rect x="1698.5" y="298" width="226.4" height="2"/><rect x="1698.5" y="302" width="221.4" height="2"/><rect x="1698.5" y="306" width="218.5" height="2"/><rect x="1698.5" y="310" width="236.4" height="2"/><rect x="1698.5" y="314" width="253.4" height="2"/><rect x="1698.5" y="318" width="271.4" height="2"/><rect x="1698.5" y="322" width="282.4" height="2"/><rect x="1698.5" y="326" width="287.3" height="2"/><rect x="1698.5" y="330" width="292.4" height="2"/></g><g fill="#fb4532"><rect x="1698.5" y="334" width="257.5" height="2"/><rect x="1698.5" y="338" width="223.6" height="2"/><rect x="1698.5" y="342" width="191.4" height="2"/><rect x="1698.5" y="346" width="161.5" height="2"/><rect x="1698.5" y="350" width="133.4" height="2"/><rect x="1698.5" y="354" width="114.6" height="2"/><rect x="1698.5" y="358" width="113.5" height="2"/><rect x="1698.5" y="363" width="119.5" height="2"/><rect x="1698.5" y="367" width="124.6" height="2"/><rect x="1698.5" y="371" width="130.4" height="2"/><rect x="1698.5" y="375" width="135.5" height="2"/><rect x="1698.5" y="379" width="141.5" height="2"/><rect x="1698.5" y="383" width="146.6" height="2"/><rect x="1698.5" y="387" width="156.6" height="2"/><rect x="1698.5" y="391" width="165.6" height="2"/><rect x="1698.5" y="395" width="172.6" height="2"/><rect x="1698.5" y="399" width="179.4" height="2"/><rect x="1698.5" y="403" width="190.5" height="2"/><rect x="1698.5" y="407" width="197.5" height="2"/><rect x="1698.5" y="411" width="202.5" height="2"/><rect x="1698.5" y="415" width="207.4" height="2"/><rect x="1698.5" y="419" width="211.4" height="2"/><rect x="1698.5" y="423" width="217.4" height="2"/><rect x="1698.5" y="428" width="225.5" height="2"/><rect x="1698.5" y="432" width="217.4" height="2"/><rect x="1698.5" y="436" width="202.5" height="2"/><rect x="1698.5" y="440" width="189.5" height="2"/><rect x="1698.5" y="444" width="180.5" height="2"/><rect x="1698.5" y="448" width="166.4" height="2"/><rect x="1698.5" y="452" width="154.5" height="2"/><rect x="1698.5" y="456" width="152.4" height="2"/><rect x="1698.5" y="464" width="181.4" height="2"/><rect x="1698.5" y="468" width="196.5" height="2"/><rect x="1698.5" y="472" width="212.5" height="2"/><rect x="1698.5" y="476" width="206.5" height="2"/><rect x="1698.5" y="480" width="202.5" height="2"/><rect x="1698.5" y="484" width="224.4" height="2"/><rect x="1698.5" y="488" width="260.5" height="2"/><rect x="1698.5" y="493" width="296.5" height="2"/><rect x="1698.5" y="497" width="300.5" height="2"/><rect x="1698.5" y="501" width="305.4" height="2"/><rect x="1698.5" y="505" width="319.5" height="2"/><rect x="1698.5" y="509" width="331.5" height="3"/><rect x="1698.5" y="513" width="303.5" height="2"/><rect x="1698.5" y="517" width="263.4" height="2"/><rect x="1698.5" y="521" width="230.6" height="2"/><rect x="1698.5" y="525" width="208.4" height="2"/><rect x="1698.5" y="529" width="172.6" height="2"/><rect x="1698.5" y="533" width="162.4" height="2"/><rect x="1698.5" y="537" width="164.5" height="2"/><rect x="1698.5" y="541" width="178.6" height="2"/><rect x="1698.5" y="545" width="205.4" height="2"/><rect x="1698.5" y="549" width="232.5" height="2"/><rect x="1698.5" y="553" width="246.4" height="2"/><rect x="1698.5" y="558" width="256.4" height="2"/><rect x="1698.5" y="562" width="250.4" height="2"/><rect x="1698.5" y="566" width="254.5" height="2"/><rect x="1698.5" y="570" width="238.5" height="2"/><rect x="1698.5" y="574" width="224.4" height="2"/><rect x="1698.5" y="578" width="208.4" height="2"/><rect x="1698.5" y="582" width="192.4" height="2"/><rect x="1698.5" y="586" width="158.5" height="2"/><rect x="1698.5" y="590" width="136.6" height="2"/><rect x="1698.5" y="594" width="119.5" height="2"/><rect x="1698.5" y="598" width="99.5" height="2"/><rect x="1698.5" y="602" width="79.4" height="2"/><rect x="1698.5" y="606" width="66.4" height="2"/><rect x="1698.5" y="610" width="67.5" height="2"/><rect x="1698.5" y="614" width="73.5" height="2"/><rect x="1698.5" y="619" width="80.5" height="2"/><rect x="1698.5" y="623" width="89.5" height="2"/><rect x="1698.5" y="627" width="91.4" height="2"/><rect x="1698.5" y="631" width="78.4" height="2"/><rect x="1698.5" y="635" width="66.4" height="2"/><rect x="1698.5" y="639" width="55.5" height="2"/><rect x="1698.5" y="643" width="44.5" height="2"/><rect x="1698.5" y="647" width="35.5" height="2"/><rect x="1698.5" y="651" width="26.5" height="2"/><rect x="1698.5" y="655" width="20.6" height="2"/><rect x="1698.5" y="659" width="17.3" height="2"/><rect x="1698.5" y="663" width="14.2" height="2"/><rect x="1698.5" y="667" width="13.3" height="2"/><rect x="1698.5" y="671" width="12.3" height="2"/><rect x="1698.5" y="675" width="11.2" height="2"/><rect x="1698.5" y="679" width="10.3" height="2"/><rect x="1698.5" y="684" width="9.3" height="2"/><rect x="1698.5" y="688" width="8.3" height="2"/><rect x="1698.5" y="692" width="7.3" height="2"/><rect x="1698.5" y="696" width="6.2" height="2"/><rect x="1698.5" y="700" width="5.3" height="2"/><rect x="1698.5" y="704" width="4.2" height="2"/><rect x="1698.5" y="708" width="7.3" height="2"/><rect x="1698.5" y="712" width="11.2" height="2"/><rect x="1698.5" y="716" width="16.3" height="2"/><rect x="1698.5" y="720" width="16.3" height="2"/><rect x="1698.5" y="724" width="15.3" height="2"/><rect x="1698.5" y="728" width="14.2" height="2"/><rect x="1698.5" y="732" width="13.3" height="2"/><rect x="1698.5" y="736" width="11.2" height="2"/><rect x="1698.5" y="740" width="10.3" height="2"/><rect x="1698.5" y="744" width="9.3" height="2"/><rect x="1698.5" y="749" width="7.3" height="2"/><rect x="1698.5" y="753" width="6.2" height="2"/><rect x="1698.5" y="757" width="5.3" height="2"/><rect x="1698.5" y="761" width="4.2" height="2"/><rect x="1698.5" y="765" width="2.3" height="2"/><rect x="1698.5" y="769" width="1.2" height="2"/><rect x="1698.5" y="784" width="2.3" height="2"/><rect x="1698.5" y="788" width="3.2" height="2"/><rect x="1698.5" y="792" width="4.2" height="2"/><rect x="1698.5" y="796" width="6.2" height="2"/><rect x="1698.5" y="800" width="7.3" height="2"/><rect x="1698.5" y="804" width="8.3" height="2"/><rect x="1698.5" y="808" width="8.3" height="2"/><rect x="1698.5" y="812" width="9.3" height="2"/><rect x="1698.5" y="816" width="9.3" height="2"/><rect x="1698.5" y="820" width="13.3" height="2"/><rect x="1698.5" y="824" width="25.2" height="2"/><rect x="1698.5" y="828" width="27.2" height="2"/><rect x="1698.5" y="833" width="29.3" height="2"/><rect x="1698.5" y="837" width="29.3" height="2"/><rect x="1698.5" y="841" width="35.2" height="2"/><rect x="1698.5" y="845" width="31.3" height="2"/><rect x="1698.5" y="849" width="27.2" height="2"/><rect x="1698.5" y="853" width="23.3" height="2"/><rect x="1698.5" y="857" width="29.3" height="2"/><rect x="1698.5" y="861" width="34.3" height="2"/><rect x="1698.5" y="865" width="36.2" height="2"/><rect x="1698.5" y="869" width="36.2" height="2"/><rect x="1698.5" y="873" width="34.3" height="2"/><rect x="1698.5" y="877" width="29.3" height="2"/><rect x="1698.5" y="881" width="29.3" height="2"/><rect x="1698.5" y="885" width="24.3" height="2"/><rect x="1698.5" y="889" width="24.3" height="2"/><rect x="1698.5" y="893" width="27.2" height="2"/><rect x="1698.5" y="898" width="26.3" height="2"/><rect x="1698.5" y="902" width="21.3" height="2"/><rect x="1698.5" y="906" width="26.3" height="2"/><rect x="1698.5" y="910" width="33.2" height="2"/><rect x="1698.5" y="914" width="52.2" height="2"/><rect x="1698.5" y="918" width="81.2" height="2"/><rect x="1698.5" y="922" width="86.2" height="2"/><rect x="1698.5" y="926" width="78.2" height="2"/><rect x="1698.5" y="930" width="80.2" height="2"/><rect x="1698.5" y="934" width="89.2" height="2"/><rect x="1698.5" y="938" width="78.2" height="2"/><rect x="1698.5" y="942" width="67.2" height="2"/><rect x="1698.5" y="946" width="69.3" height="2"/><rect x="1698.5" y="950" width="84.2" height="2"/><rect x="1698.5" y="954" width="88.2" height="2"/><rect x="1698.5" y="958" width="81.2" height="2"/><rect x="1698.5" y="963" width="52.2" height="2"/><rect x="1698.5" y="967" width="31.2" height="2"/><rect x="1698.5" y="971" width="48.2" height="2"/><rect x="1698.5" y="975" width="54.2" height="2"/><rect x="1698.5" y="979" width="39.2" height="2"/><rect x="1698.5" y="983" width="26.3" height="2"/><rect x="1698.5" y="987" width="20.2" height="2"/><rect x="1698.5" y="991" width="17.2" height="2"/><rect x="1698.5" y="995" width="15.2" height="2"/><rect x="1698.5" y="999" width="9.2" height="2"/><rect x="1698.5" y="1003" width="8.3" height="2"/><rect x="1698.5" y="1007" width="7.3" height="2"/><rect x="1698.5" y="1011" width="7.3" height="2"/><rect x="1698.5" y="1015" width="6.2" height="2"/><rect x="1698.5" y="1019" width="7.3" height="2"/><rect x="1698.5" y="1023" width="8.3" height="2"/><rect x="1698.5" y="1028" width="6.2" height="2"/><rect x="1698.5" y="1032" width="8.3" height="2"/><rect x="1698.5" y="1036" width="11.2" height="2"/></g><g fill="#f5a51c"><rect x="1698.5" y="460" width="165.6" height="2"/></g>
<path d="M1698.5 142.5 H2030.5 V1534.5 H1698.5 Z M1699 1040.5 H2030" fill="none" stroke="#464646" stroke-width="1"/>
<rect x="1714.5" y="1126.5" width="199" height="31" rx="4" fill="#242426" stroke="#5a5a5a" stroke-width="1"/>
<path d="M1718 1126 H1814 V1158 H1718 Q1714 1158 1714 1154 V1130 Q1714 1126 1718 1126 Z" fill="#fb4532"/>
<circle cx="1838" cy="1507.5" r="11.5" fill="none" stroke="#9a9a9a" stroke-width="1.5"/>
<rect x="225" y="1532" width="100" height="4" fill="#fb4532"/>
<path d="M1375 1033 H1398.2 M1379.6 1028.6 L1375.2 1033 L1379.6 1037.4" fill="none" stroke="#fb4532" stroke-width="2.2" stroke-linejoin="miter"/>
<path d="M1998.5 41.5 L2027.5 70.5 M2027.5 41.5 L1998.5 70.5" stroke="#7a7a7a" stroke-width="2.2" fill="none"/>
<path d="M172.4 35.4 H185.4 L178.9 42.4 Z" fill="#3d7fd0" stroke="#3d7fd0" stroke-width="1" stroke-linejoin="round"/>
<rect x="10" y="70" width="32" height="22" rx="3" fill="#a5673a"/>
</svg>
<header id="hdr">
<span class="t" style="left:9.69px;top:15.8px;font-size:36.5px;line-height:51px;color:#d8d8d8;font-weight:500;transform:scaleX(1.0108);">小商品城</span>
<span class="t" style="left:16.38px;top:69.05px;font-size:17.5px;line-height:24px;color:#f3e0d0;font-weight:300;transform:scaleX(1.0188);">融</span>
<span class="t" style="left:49.03px;top:59.45px;font-size:32px;line-height:45px;color:#8c8c8c;transform:scaleX(0.9724);">600415</span>
<span class="t" style="left:343.91px;top:31.0px;font-size:35.5px;line-height:50px;color:#fb4532;transform:scaleX(0.9958);">9.69(0.62%)</span>
<span class="t" style="left:670.46px;top:37.7px;font-size:29px;line-height:41px;color:#e2e2e2;font-weight:300;transform:scaleX(1.068);">高</span>
<span class="t" style="left:715.71px;top:34.45px;font-size:32px;line-height:45px;color:#fb4532;transform:scaleX(0.9867);">9.88</span>
<span class="t" style="left:945.98px;top:37.75px;font-size:29px;line-height:41px;color:#e2e2e2;font-weight:300;transform:scaleX(1.0222);">低</span>
<span class="t" style="left:990.84px;top:34.45px;font-size:32px;line-height:45px;color:#2fae33;transform:scaleX(0.86);">9.51</span>
<span class="t" style="left:1221.61px;top:37.6px;font-size:29px;line-height:41px;color:#e2e2e2;font-weight:300;transform:scaleX(0.9889);">开</span>
<span class="t" style="left:1265.72px;top:34.45px;font-size:32px;line-height:45px;color:#2fae33;transform:scaleX(0.98);">9.60</span>
</header>
<section id="legend">
<span class="t" style="left:16.29px;top:111.2px;font-size:22px;line-height:31px;color:#dadada;transform:scaleX(1.0769);">日线</span>
<span class="t" style="left:75.42px;top:110.25px;font-size:24.5px;line-height:34px;color:#dadada;transform:scaleX(1.0392);">MA5:9.52</span>
<span class="t" style="left:195.99px;top:110.25px;font-size:24.5px;line-height:34px;color:#f130aa;transform:scaleX(1.0063);">10:8.87</span>
<span class="t" style="left:290.98px;top:110.25px;font-size:24.5px;line-height:34px;color:#fba80c;transform:scaleX(1.0237);">20:8.57</span>
<span class="t" style="left:388.71px;top:110.25px;font-size:24.5px;line-height:34px;color:#2a9cf2;transform:scaleX(0.9888);">60:7.57</span>
<span class="t" style="left:482.96px;top:110.25px;font-size:24.5px;line-height:34px;color:#b14600;transform:scaleX(1.0217);">120:6.33</span>
<span class="t" style="left:592.44px;top:110.25px;font-size:24.5px;line-height:34px;color:#0aa66f;transform:scaleX(1.0575);">30:8.92</span>
</section>
<main id="chart">
<span class="t" style="left:25.1px;top:146.05px;font-size:25px;line-height:35px;color:#9b9b9b;transform:scaleX(0.8983);">11.10</span>
<span class="t" style="left:25.86px;top:350.68px;font-size:25px;line-height:35px;color:#9b9b9b;transform:scaleX(1.0426);">9.43</span>
<span class="t" style="left:25.82px;top:575.55px;font-size:25px;line-height:35px;color:#9b9b9b;transform:scaleX(0.9309);">7.77</span>
<span class="t" style="left:26.22px;top:800.55px;font-size:25px;line-height:35px;color:#9b9b9b;transform:scaleX(0.88);">6.11</span>
<span class="t" style="left:27.1px;top:1005.95px;font-size:25px;line-height:35px;color:#9b9b9b;transform:scaleX(1.0063);">4.45</span>
<span class="t" style="left:114.3px;top:997.65px;font-size:25px;line-height:35px;color:#d6d6d6;transform:scaleX(0.9958);">4.82</span>
<span class="t" style="left:92.55px;top:989.9px;font-size:34.0px;line-height:48px;color:#d6d6d6;font-weight:300;transform:scaleX(0.676);font-family:'DejaVu Sans',sans-serif;">←</span>
<span class="t" style="left:1039.74px;top:139.6px;font-size:25px;line-height:35px;color:#d6d6d6;transform:scaleX(0.9817);">10.82</span>
<span class="t" style="left:1102.68px;top:130.85px;font-size:35.5px;line-height:50px;color:#d6d6d6;font-weight:300;transform:scaleX(0.6577);font-family:'DejaVu Sans',sans-serif;">→</span>
<span class="t" style="left:16.02px;top:1040.1px;font-size:20.5px;line-height:29px;color:#9b9b9b;transform:scaleX(1.0802);">2023/02/13</span>
<span class="t" style="left:1527.88px;top:1040.1px;font-size:20.5px;line-height:29px;color:#9b9b9b;transform:scaleX(1.1228);">2023/06/09</span>
<span class="t" style="left:16.39px;top:1070.45px;font-size:24px;line-height:34px;color:#d0d0d0;transform:scaleX(1.01);">成交量</span>
<span class="t" style="left:26.43px;top:1249.12px;font-size:24.5px;line-height:34px;color:#9b9b9b;transform:scaleX(0.9727);">310.41万</span>
<span class="t" style="left:1377.85px;top:993.9px;font-size:25.5px;line-height:36px;color:#fb4532;font-weight:700;transform:scaleX(1.0538);">q</span>
</main>
<aside id="chips">
<span class="t" style="left:1964.85px;top:144.6px;font-size:25.5px;line-height:36px;color:#e0e0e0;transform:scaleX(0.8729);">11.10</span>
<span class="t" style="left:1968.38px;top:343.7px;font-size:25.5px;line-height:36px;color:#e0e0e0;transform:scaleX(1.0187);">9.43</span>
<span class="t" style="left:1973.79px;top:568.3px;font-size:25.5px;line-height:36px;color:#e0e0e0;transform:scaleX(0.9083);">7.77</span>
<span class="t" style="left:1976.73px;top:793.35px;font-size:25.5px;line-height:36px;color:#e0e0e0;transform:scaleX(0.8696);">6.11</span>
<span class="t" style="left:1969.8px;top:1000.55px;font-size:25.5px;line-height:36px;color:#e0e0e0;transform:scaleX(0.9918);">4.45</span>
<span class="t" style="left:1714.27px;top:1054.05px;font-size:22px;line-height:31px;color:#fb4532;transform:scaleX(1.035);">收盘获利：75.38%</span>
<span class="t" style="left:1714.27px;top:1087.75px;font-size:22px;line-height:31px;color:#f7a61e;transform:scaleX(1.0305);">平均成本：8.74</span>
<span class="t" style="left:1721.85px;top:1129.4px;font-size:20px;line-height:28px;color:#ffffff;transform:scaleX(1.0462);">90%筹码</span>
<span class="t" style="left:1822.68px;top:1129.4px;font-size:20px;line-height:28px;color:#a2a2a2;transform:scaleX(1.0244);">70%筹码</span>
<span class="t" style="left:1714.28px;top:1165.5px;font-size:22px;line-height:31px;color:#8e8e8e;transform:scaleX(1.0188);">价格区间</span>
<span class="t" style="left:1812.21px;top:1166.2px;font-size:23.5px;line-height:33px;color:#e0e0e0;transform:scaleX(1.0927);">5.28-10.25</span>
<span class="t" style="left:1714.3px;top:1199.95px;font-size:22px;line-height:31px;color:#8e8e8e;">集中度</span>
<span class="t" style="left:1812.22px;top:1200.4px;font-size:23.5px;line-height:33px;color:#e0e0e0;transform:scaleX(1.0756);">32.00%</span>
<span class="t" style="left:1718.1px;top:1491.65px;font-size:24px;line-height:34px;color:#ececec;transform:scaleX(1.0043);">筹码分布</span>
<span class="t" style="left:1832.2px;top:1494.0px;font-size:19px;line-height:27px;color:#9a9a9a;">?</span>
</aside>
<nav id="tabs">
<span class="t" style="left:24.3px;top:1481.2px;font-size:30px;line-height:42px;color:#f0f0f0;">分时</span>
<span class="t" style="left:141.88px;top:1481.2px;font-size:30px;line-height:42px;color:#f0f0f0;transform:scaleX(1.0195);">5日</span>
<span class="t" style="left:250.0px;top:1481.2px;font-size:30px;line-height:42px;color:#fb4532;">日K</span>
<span class="t" style="left:361.02px;top:1481.2px;font-size:30px;line-height:42px;color:#f0f0f0;transform:scaleX(0.975);">周K</span>
<span class="t" style="left:472.03px;top:1481.2px;font-size:30px;line-height:42px;color:#f0f0f0;transform:scaleX(0.9667);">月K</span>
<span class="t" style="left:581.01px;top:1481.2px;font-size:30px;line-height:42px;color:#f0f0f0;transform:scaleX(0.9875);">季K</span>
<span class="t" style="left:690.52px;top:1481.2px;font-size:30px;line-height:42px;color:#f0f0f0;transform:scaleX(0.9792);">年K</span>
<span class="t" style="left:802.52px;top:1481.2px;font-size:30px;line-height:42px;color:#f0f0f0;transform:scaleX(0.9395);">1分</span>
<span class="t" style="left:911.71px;top:1481.2px;font-size:30px;line-height:42px;color:#f0f0f0;transform:scaleX(0.9909);">5分</span>
<span class="t" style="left:1013.47px;top:1481.2px;font-size:30px;line-height:42px;color:#f0f0f0;transform:scaleX(0.9667);">15分</span>
<span class="t" style="left:1121.56px;top:1481.2px;font-size:30px;line-height:42px;color:#f0f0f0;transform:scaleX(1.0377);">30分</span>
<span class="t" style="left:1230.54px;top:1481.2px;font-size:30px;line-height:42px;color:#f0f0f0;transform:scaleX(1.0557);">60分</span>
<span class="t" style="left:1334.01px;top:1481.2px;font-size:30px;line-height:42px;color:#f0f0f0;">120分</span>
</nav>
</body></html>
